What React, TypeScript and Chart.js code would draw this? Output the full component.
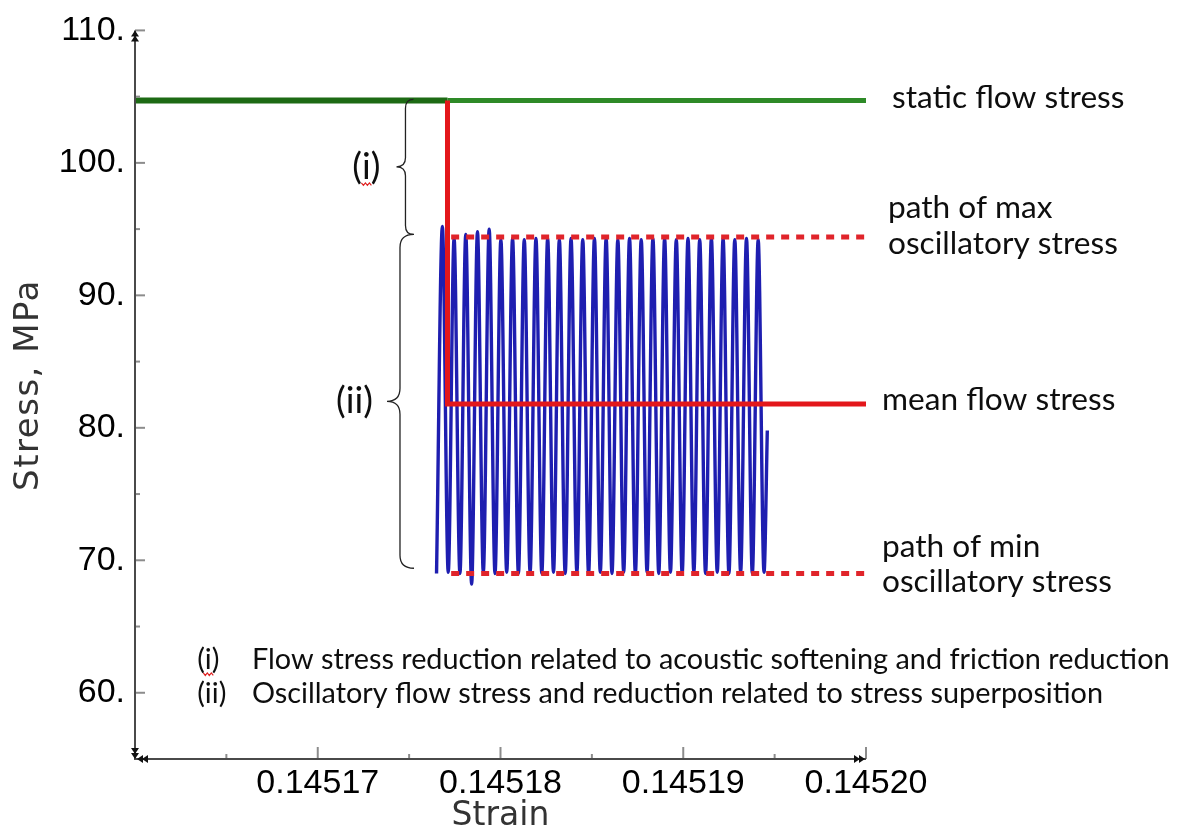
import React, { useEffect, useRef } from "react";
import { Chart, registerables } from "chart.js";

Chart.register(...registerables);

// ---------- axis ranges & ticks ----------
const STRAIN_MIN = 0.14516;
const STRAIN_MAX = 0.1452;
const STRESS_MIN = 55;
const STRESS_MAX = 110;
const xMajorTicks = [0.14517, 0.14518, 0.14519, 0.1452];
const xMinorTicks = [0.145165, 0.145175, 0.145185, 0.145195];
const yMajorTicks = [60, 70, 80, 90, 100, 110];
const yMinorTicks = [65, 75, 85, 95, 105];

// ---------- series ----------
const staticLeftStrain = [0.14516, 0.1451771];
const staticLeftStress = [104.7, 104.7];
const staticRightStrain = [0.1451771, 0.1452];
const staticRightStress = [104.7, 104.7];

const meanStrain = [0.1451771, 0.1451771, 0.1452];
const meanStress = [104.7, 81.8, 81.8];

const maxPathStrain = [0.1451773, 0.1452];
const maxPathStress = [94.4, 94.4];
const minPathStrain = [0.1451773, 0.1452];
const minPathStress = [69.0, 69.0];

const oscStrain = [
  0.1451765, 0.14517682, 0.14517714, 0.14517746, 0.14517778, 0.1451781, 0.14517842, 0.14517874,
  0.14517906, 0.14517938, 0.1451797, 0.14518002, 0.14518034, 0.14518066, 0.14518098, 0.1451813,
  0.14518162, 0.14518194, 0.14518226, 0.14518258, 0.1451829, 0.14518322, 0.14518354, 0.14518386,
  0.14518418, 0.1451845, 0.14518482, 0.14518514, 0.14518546, 0.14518578, 0.1451861, 0.14518642,
  0.14518674, 0.14518706, 0.14518738, 0.1451877, 0.14518802, 0.14518834, 0.14518866, 0.14518898,
  0.1451893, 0.14518962, 0.14518994, 0.14519026, 0.14519058, 0.1451909, 0.14519122, 0.14519154,
  0.14519186, 0.14519218, 0.1451925, 0.14519282, 0.14519314, 0.14519346, 0.14519378, 0.1451941,
  0.14519442, 0.1451946,
];
const oscStress = [
  69.0, 95.2, 69.1, 94.3, 69.0, 94.6, 68.2, 94.8,
  69.1, 95.0, 69.0, 94.2, 69.1, 94.3, 69.0, 94.2,
  69.1, 94.3, 69.0, 94.3, 69.1, 94.2, 69.0, 94.3,
  69.1, 94.2, 69.0, 94.3, 69.1, 94.3, 69.0, 94.2,
  69.1, 94.3, 69.0, 94.2, 69.1, 94.3, 69.0, 94.3,
  69.1, 94.2, 69.0, 94.3, 69.1, 94.2, 69.0, 94.3,
  69.1, 94.3, 69.0, 94.2, 69.1, 94.3, 69.0, 94.2,
  69.1, 79.8,
];

// ---------- annotations ----------
const braceIStrain = 0.1451748;
const braceIRange = [104.8, 94.6];
const braceIIStrain = 0.1451745;
const braceIIRange = [94.6, 69.4];

const labelStatic = "static flow stress";
const labelMaxA = "path of max";
const labelMaxB = "oscillatory stress";
const labelMean = "mean flow stress";
const labelMinA = "path of min";
const labelMinB = "oscillatory stress";
const noteI = "Flow stress reduction related to acoustic softening and friction reduction";
const noteII = "Oscillatory flow stress and reduction related to stress superposition";

const pts = (xs: number[], ys: number[]) => xs.map((x, i) => ({ x, y: ys[i] }));

const LABEL_FONT = "Lato, 'Open Sans', sans-serif";
const TITLE_FONT = "'DejaVu Sans', Verdana, sans-serif";

function fitSize(ctx: CanvasRenderingContext2D, text: string, family: string, width: number) {
  ctx.font = `100px ${family}`;
  const w = ctx.measureText(text).width;
  return (100 * width) / w;
}

const decorPlugin = {
  id: "decor",
  afterDraw(chart: any) {
    const { ctx, chartArea: ca, scales } = chart;
    const X = (v: number) => scales.x.getPixelForValue(v);
    const Y = (v: number) => scales.y.getPixelForValue(v);
    const line = (x1: number, y1: number, x2: number, y2: number) => {
      ctx.beginPath();
      ctx.moveTo(x1, y1);
      ctx.lineTo(x2, y2);
      ctx.stroke();
    };
    const tri = (ax: number, ay: number, bx1: number, by1: number, bx2: number, by2: number) => {
      ctx.beginPath();
      ctx.moveTo(ax, ay);
      ctx.lineTo(bx1, by1);
      ctx.lineTo(bx2, by2);
      ctx.closePath();
      ctx.fill();
    };
    ctx.save();

    // tick marks (inward)
    ctx.strokeStyle = "#8c8c8c";
    ctx.lineWidth = 2;
    yMajorTicks.forEach((v) => line(ca.left, Y(v), ca.left + 10, Y(v)));
    yMinorTicks.forEach((v) => line(ca.left, Y(v), ca.left + 5, Y(v)));
    xMajorTicks.forEach((v) => line(X(v), ca.bottom, X(v), ca.bottom - 12));
    xMinorTicks.forEach((v) => line(X(v), ca.bottom, X(v), ca.bottom - 5));

    // axis lines
    ctx.strokeStyle = "#4a4a4a";
    ctx.lineWidth = 2;
    line(ca.left, ca.top, ca.left, ca.bottom + 1);
    line(ca.left, ca.bottom, ca.right, ca.bottom);

    // arrowheads
    ctx.fillStyle = "#111";
    const L = ca.left, B = ca.bottom, T = ca.top, R = ca.right;
    tri(L, T, L - 4, T + 6, L + 4, T + 6);
    tri(L, T + 5, L - 4, T + 11, L + 4, T + 11);
    tri(L, B, L - 4, B - 6, L + 4, B - 6);
    tri(L, B - 5, L - 4, B - 11, L + 4, B - 11);
    tri(L + 2, B, L + 8, B - 4, L + 8, B + 4);
    tri(L + 7, B, L + 13, B - 4, L + 13, B + 4);
    tri(R - 1, B, R - 7, B - 4, R - 7, B + 4);
    tri(R - 6, B, R - 12, B - 4, R - 12, B + 4);

    // braces
    const brace = (strain: number, v1: number, v2: number, r: number, tip: number) => {
      const x = X(strain);
      const y1 = Y(v1), y2 = Y(v2), ym = (y1 + y2) / 2;
      ctx.beginPath();
      ctx.moveTo(x + tip, y1);
      ctx.quadraticCurveTo(x, y1, x, y1 + r);
      ctx.lineTo(x, ym - r);
      ctx.quadraticCurveTo(x, ym, x - r, ym);
      ctx.quadraticCurveTo(x, ym, x, ym + r);
      ctx.lineTo(x, y2 - r);
      ctx.quadraticCurveTo(x, y2, x + tip, y2);
      ctx.stroke();
      return { px: x - r, py: ym };
    };
    ctx.strokeStyle = "#222";
    ctx.lineWidth = 1.3;
    const bI = brace(braceIStrain, braceIRange[0], braceIRange[1], 9, 8);
    const bII = brace(braceIIStrain, braceIIRange[0], braceIIRange[1], 13, 14);

    const squiggle = (cx: number, y: number) => {
      ctx.save();
      ctx.strokeStyle = "#e02020";
      ctx.lineWidth = 1.2;
      ctx.beginPath();
      for (let k = 0; k <= 5; k++) {
        const xx = cx - 5 + k * 2;
        const yy = y + (k % 2 === 0 ? 0 : 2.5);
        if (k === 0) ctx.moveTo(xx, yy);
        else ctx.lineTo(xx, yy);
      }
      ctx.stroke();
      ctx.restore();
    };

    // right-hand labels
    const rs = fitSize(ctx, labelMaxB, LABEL_FONT, 230);
    ctx.font = `${rs}px ${LABEL_FONT}`;
    ctx.fillStyle = "#0e0e0e";
    ctx.textAlign = "left";
    ctx.textBaseline = "alphabetic";
    ctx.fillText(labelStatic, R + 26, Y(104.7) + 7);
    ctx.fillText(labelMaxA, R + 22, Y(94.4) - 19);
    ctx.fillText(labelMaxB, R + 22, Y(94.4) + 17);
    ctx.fillText(labelMean, R + 16, Y(81.8) + 6);
    ctx.fillText(labelMinA, R + 16, Y(69.0) - 17);
    ctx.fillText(labelMinB, R + 16, Y(69.0) + 18);

    // brace labels
    ctx.font = `${rs * 1.15}px ${LABEL_FONT}`;
    ctx.textAlign = "right";
    ctx.textBaseline = "middle";
    ctx.fillText("(i)", bI.px - 16, bI.py);
    const wi = ctx.measureText("(i)").width;
    squiggle(bI.px - 16 - wi / 2, bI.py + 16);
    ctx.fillText("(ii)", bII.px - 14, bII.py);

    // notes
    const ns = fitSize(ctx, noteI, LABEL_FONT, 918);
    ctx.font = `${ns}px ${LABEL_FONT}`;
    ctx.textAlign = "left";
    ctx.textBaseline = "alphabetic";
    const nx1 = X(0.1451634), nx2 = X(0.1451664);
    const ny1 = Y(61.8), ny2 = Y(59.2);
    ctx.fillText("(i)", nx1, ny1);
    const wp = ctx.measureText("(").width, wI = ctx.measureText("i").width;
    squiggle(nx1 + wp + wI / 2, ny1 + 4);
    ctx.fillText(noteI, nx2, ny1);
    ctx.fillText("(ii)", nx1, ny2);
    ctx.fillText(noteII, nx2, ny2);

    // axis titles
    ctx.fillStyle = "#333";
    ctx.textAlign = "center";
    ctx.textBaseline = "middle";
    ctx.font = `33px ${TITLE_FONT}`;
    ctx.fillText("Strain", (ca.left + ca.right) / 2, 816);
    ctx.save();
    ctx.translate(29, 385);
    ctx.rotate(-Math.PI / 2);
    ctx.font = `34px ${TITLE_FONT}`;
    (ctx as any).letterSpacing = "1.5px";
    ctx.fillText("Stress, MPa", 0, 0);
    ctx.restore();

    ctx.restore();
  },
};

export default function App() {
  const ref = useRef<HTMLCanvasElement | null>(null);
  useEffect(() => {
    if (!ref.current) return;
    const line = (data: any[], color: string, width: number, dash: number[] = [], extra: any = {}) => ({
      data,
      showLine: true,
      borderColor: color,
      backgroundColor: color,
      borderWidth: width,
      borderDash: dash,
      borderCapStyle: "butt",
      borderJoinStyle: "miter",
      pointRadius: 0,
      pointHoverRadius: 0,
      tension: 0,
      fill: false,
      ...extra,
    });
    const chart = new Chart(ref.current, {
      type: "scatter",
      data: {
        datasets: [
          line(pts(meanStrain, meanStress), "#e3171b", 5),
          line(pts(maxPathStrain, maxPathStress), "#e0242a", 5, [8, 7]),
          line(pts(minPathStrain, minPathStress), "#e0242a", 5, [8, 7]),
          line(pts(oscStrain, oscStress), "#1e1eb0", 3.4, [], {
            cubicInterpolationMode: "monotone",
            borderJoinStyle: "round",
          }),
          line(pts(staticLeftStrain, staticLeftStress), "#1d6a14", 6),
          line(pts(staticRightStrain, staticRightStress), "#2e8a28", 5),
        ] as any,
      },
      options: {
        animation: false,
        responsive: false,
        devicePixelRatio: 1,
        layout: { padding: { left: 0, top: 29, right: 321, bottom: 0 } },
        plugins: { legend: { display: false }, tooltip: { enabled: false } },
        scales: {
          x: {
            type: "linear",
            min: STRAIN_MIN,
            max: STRAIN_MAX,
            grid: { display: false, drawTicks: false },
            border: { display: false },
            afterBuildTicks: (s: any) => {
              s.ticks = xMajorTicks.map((v) => ({ value: v }));
            },
            afterFit: (s: any) => {
              s.height = 75;
            },
            ticks: {
              autoSkip: false,
              maxRotation: 0,
              padding: 4,
              color: "#000",
              font: { family: "'Liberation Sans', Arial, sans-serif", size: 34 },
              callback: (v: any) => Number(v).toFixed(5),
            },
          },
          y: {
            type: "linear",
            min: STRESS_MIN,
            max: STRESS_MAX,
            grid: { display: false, drawTicks: false },
            border: { display: false },
            afterBuildTicks: (s: any) => {
              s.ticks = yMajorTicks.map((v) => ({ value: v }));
            },
            afterFit: (s: any) => {
              s.width = 135;
            },
            ticks: {
              autoSkip: false,
              padding: 10,
              color: "#000",
              font: { family: "'Liberation Sans', Arial, sans-serif", size: 34 },
              callback: (v: any) => `${v}.`,
            },
          },
        },
      } as any,
      plugins: [decorPlugin as any],
    });
    return () => chart.destroy();
  }, []);
  return (
    <div style={{ position: "fixed", left: 0, top: 0, width: 1187, height: 834, background: "#fff" }}>
      <canvas ref={ref} width={1187} height={834} style={{ display: "block", width: 1187, height: 834 }} />
    </div>
  );
}
